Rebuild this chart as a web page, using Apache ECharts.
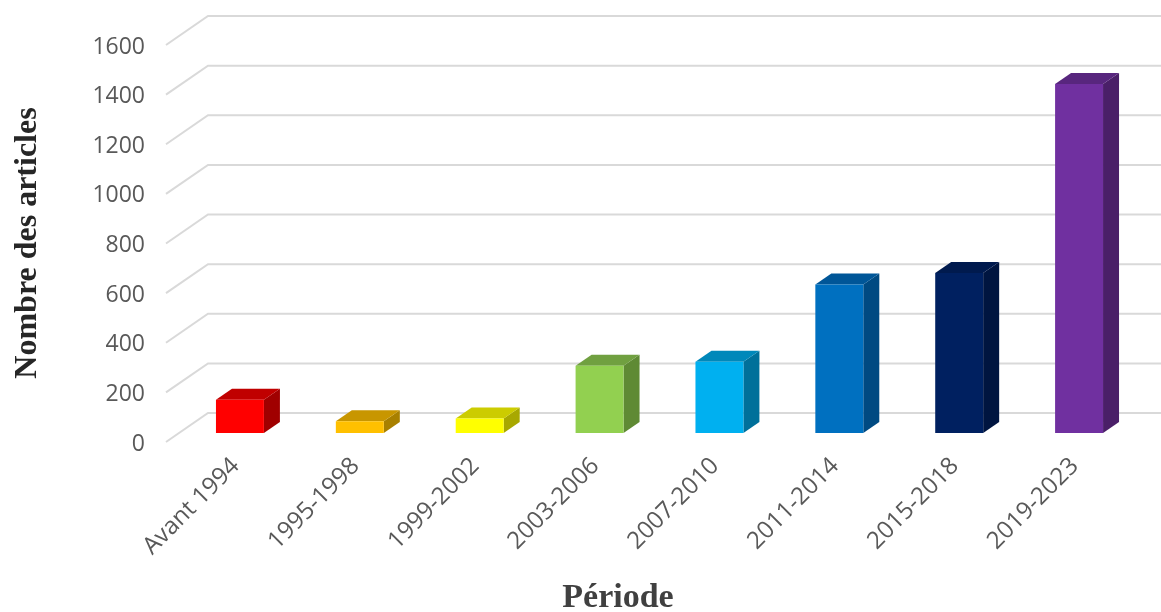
<!DOCTYPE html>
<html>
<head>
<meta charset="utf-8">
<script src="https://cdn.jsdelivr.net/npm/echarts@6/dist/echarts.min.js"></script>
<style>
html,body{margin:0;padding:0;background:#fff;}
#chart{width:1161px;height:612px;}
</style>
</head>
<body>
<div id="chart"></div>
<script>
const categories = ['Avant 1994', '1995-1998', '1999-2002', '2003-2006', '2007-2010', '2011-2014', '2015-2018', '2019-2023'];
const articles = [134, 47, 58, 271, 287, 598, 645, 1407];
const yTicks = [0, 200, 400, 600, 800, 1000, 1200, 1400, 1600];
const frontColors = ['#FF0000', '#FFC000', '#FFFF00', '#92D050', '#00B0F0', '#0070C0', '#002060', '#7030A0'];
const topColors   = ['#C00000', '#C89600', '#CCCC00', '#70A040', '#0088BA', '#005698', '#001A4E', '#58267E'];
const sideColors  = ['#A00000', '#A88000', '#A8A800', '#5F8A34', '#00709A', '#004A82', '#001540', '#4A1F68'];

const DEPTH_X = 16, DEPTH_Y = -11;     // bar depth
const FRONT_DX = -14, FRONT_DY = 9;    // front plane offset from bar plane
const BACK_DX = 28, BACK_DY = -20;     // back plane offset from bar plane

const chart = echarts.init(document.getElementById('chart'), null, {renderer: 'canvas'});

const option = {
  animation: false,
  backgroundColor: '#ffffff',
  grid: {left: 180, right: 22, top: 36, bottom: 179, containLabel: false},
  xAxis: {
    type: 'category',
    data: categories,
    axisLine: {show: false},
    axisTick: {show: false},
    axisLabel: {
      interval: 0, rotate: 45, margin: 25,
      padding: [0, 6, 0, 0],
      color: '#595959', fontSize: 24, fontFamily: 'Open Sans'
    }
  },
  yAxis: {
    type: 'value',
    min: 0, max: 1600, interval: 200,
    axisLine: {show: false},
    axisTick: {show: false},
    splitLine: {show: false},
    axisLabel: {
      margin: 35, color: '#595959', fontSize: 23, fontFamily: 'Open Sans',
      verticalAlign: 'top', lineHeight: 22,
      formatter: function (v) { return String(v); }
    }
  },
  graphic: [
    {
      type: 'text', x: 28, y: 243, rotation: Math.PI / 2,
      style: {
        text: 'Nombre des articles', fill: '#262626',
        font: 'bold 32px "Liberation Serif"',
        textAlign: 'center', textVerticalAlign: 'middle'
      }
    },
    {
      type: 'text', x: 618, y: 598,
      style: {
        text: 'Période', fill: '#404040',
        font: 'bold 34px "Liberation Serif"',
        textAlign: 'center', textVerticalAlign: 'middle'
      }
    }
  ],
  series: [
    {
      type: 'custom',
      name: 'grid',
      silent: true,
      z: 1,
      data: yTicks.map(v => [0, v]),
      renderItem: function (params, api) {
        const cs = params.coordSys;
        const y = api.coord([0, api.value(1)])[1];
        return {
          type: 'polyline',
          shape: {points: [[cs.x + FRONT_DX, y + FRONT_DY], [cs.x + BACK_DX, y + BACK_DY], [1161, y + BACK_DY]]},
          style: {stroke: '#d9d9d9', lineWidth: 2, fill: null}
        };
      }
    },
    {
      type: 'custom',
      name: 'Nombre des articles',
      z: 2,
      data: articles.map((v, i) => [i, v]),
      renderItem: function (params, api) {
        const i = api.value(0);
        const base = api.coord([i, 0]);
        const top = api.coord([i, api.value(1)]);
        const band = api.size([1, 0])[0];
        const w = band * 0.4;
        const x1 = base[0] - w / 2, x2 = base[0] + w / 2;
        const yb = base[1], yt = top[1];
        const idx = params.dataIndex;
        return {
          type: 'group',
          children: [
            {
              type: 'polygon',
              shape: {points: [[x2, yt], [x2 + DEPTH_X, yt + DEPTH_Y], [x2 + DEPTH_X, yb + DEPTH_Y], [x2, yb]]},
              style: {fill: sideColors[idx]}
            },
            {
              type: 'polygon',
              shape: {points: [[x1, yt], [x1 + DEPTH_X, yt + DEPTH_Y], [x2 + DEPTH_X, yt + DEPTH_Y], [x2, yt]]},
              style: {fill: topColors[idx]}
            },
            {
              type: 'rect',
              shape: {x: x1, y: yt, width: w, height: yb - yt},
              style: {fill: frontColors[idx]}
            }
          ]
        };
      }
    }
  ]
};
chart.setOption(option);
</script>
</body>
</html>
